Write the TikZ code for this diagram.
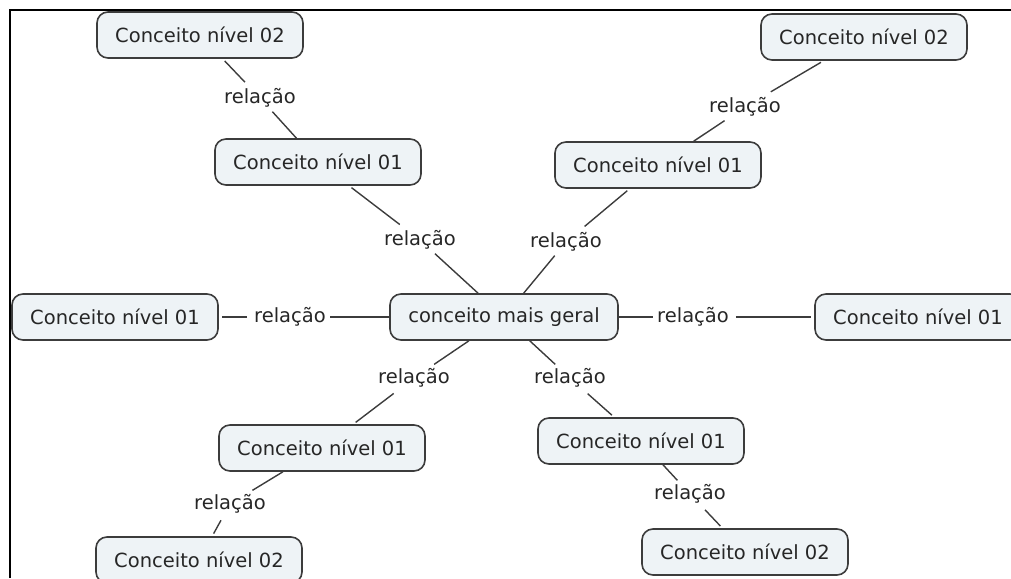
\documentclass[tikz,border=0pt]{standalone}
\usepackage{fontspec}
\setmainfont{DejaVu Sans}
\usepackage{xcolor}
\usetikzlibrary{positioning}
\definecolor{caixa}{HTML}{EEF3F6}
\definecolor{linha}{HTML}{3C3C3C}

\begin{document}
\begin{tikzpicture}[x=1pt,y=-1pt,
    conceito/.style={draw=linha, line width=1.6pt, fill=caixa, rounded corners=11pt,
      inner xsep=15pt, minimum height=46pt, minimum width=206pt, text=black!85,
      font=\fontsize{19.5}{23}\selectfont},
    rel/.style={inner sep=4pt, text=black!85, font=\fontsize{19.5}{23}\selectfont},
    liga/.style={draw=linha, line width=1.4pt, shorten <=3pt, shorten >=3pt}]
        \clip (0,0) rectangle (1011,578);
        \draw[line width=2pt] (10,578) -- (10,10) -- (1011,10);
        % conceito central
        \node[conceito, minimum width=228pt] (geral) at (504,317) {conceito mais geral};
        % nivel 01
        \node[conceito] (sup-esq) at (318,162) {Conceito nível 01};
        \node[conceito] (sup-dir) at (658,165) {Conceito nível 01};
        \node[conceito] (esq) at (115,317) {Conceito nível 01};
        \node[conceito] (dir) at (918,317) {Conceito nível 01};
        \node[conceito] (inf-esq) at (322,448) {Conceito nível 01};
        \node[conceito] (inf-dir) at (641,441) {Conceito nível 01};
        % nivel 02
        \node[conceito] (topo-esq) at (200,35) {Conceito nível 02};
        \node[conceito] (topo-dir) at (864,37) {Conceito nível 02};
        \node[conceito] (base-esq) at (199,560) {Conceito nível 02};
        \node[conceito] (base-dir) at (745,552) {Conceito nível 02};
        % relacoes
        \node[rel] (r1) at (420,240) {relação};
        \node[rel] (r2) at (566,242) {relação};
        \node[rel] (r3) at (290,317) {relação};
        \node[rel] (r4) at (693,317) {relação};
        \node[rel] (r5) at (414,378) {relação};
        \node[rel] (r6) at (570,378) {relação};
        \node[rel] (r7) at (260,98) {relação};
        \node[rel] (r8) at (745,107) {relação};
        \node[rel] (r9) at (230,504) {relação};
        \node[rel] (r10) at (690,494) {relação};
        \draw[liga] (geral) -- (r1) -- (sup-esq);
        \draw[liga] (geral) -- (r2) -- (sup-dir);
        \draw[liga] (geral) -- (r3) -- (esq);
        \draw[liga] (geral) -- (r4) -- (dir);
        \draw[liga] (geral) -- (r5) -- (inf-esq);
        \draw[liga] (geral) -- (r6) -- (inf-dir);
        \draw[liga] (sup-esq) -- (r7) -- (topo-esq);
        \draw[liga] (sup-dir) -- (r8) -- (topo-dir);
        \draw[liga] (inf-esq) -- (r9) -- (base-esq);
        \draw[liga] (inf-dir) -- (r10) -- (base-dir);
\end{tikzpicture}
\end{document}
